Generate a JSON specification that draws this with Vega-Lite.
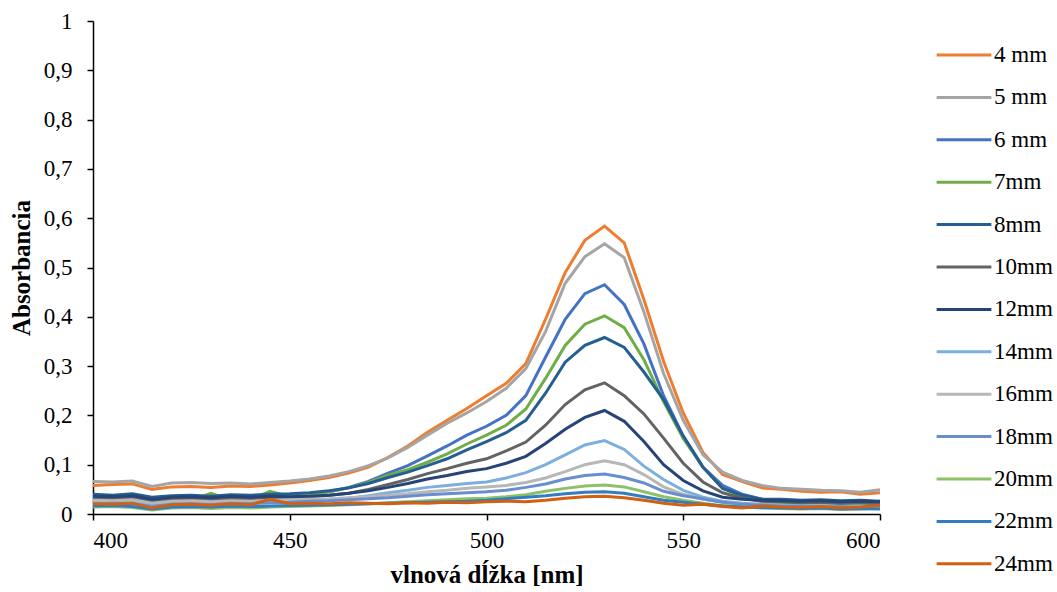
{
"$schema": "https://vega.github.io/schema/vega-lite/v6.json",
"width": 787, "height": 493,
"autosize": {"type": "none"},
"padding": {"left": 93, "top": 21, "right": 177, "bottom": 78},
"background": "white",
"config": {"font": "Liberation Serif", "view": {"stroke": null},
  "axis": {"grid": false, "domainColor": "black", "tickColor": "black", "labelColor": "black", "titleColor": "black", "labelFont": "Liberation Serif", "titleFont": "Liberation Serif", "domainWidth": 1.5, "tickWidth": 1.5}},
"data": {"values": [
{"w":400,"s":"4 mm","a":0.058},{"w":405,"s":"4 mm","a":0.060},{"w":410,"s":"4 mm","a":0.061},{"w":415,"s":"4 mm","a":0.050},{"w":420,"s":"4 mm","a":0.055},{"w":425,"s":"4 mm","a":0.056},{"w":430,"s":"4 mm","a":0.054},{"w":435,"s":"4 mm","a":0.057},{"w":440,"s":"4 mm","a":0.056},{"w":445,"s":"4 mm","a":0.059},{"w":450,"s":"4 mm","a":0.063},{"w":455,"s":"4 mm","a":0.068},{"w":460,"s":"4 mm","a":0.074},{"w":465,"s":"4 mm","a":0.083},{"w":470,"s":"4 mm","a":0.095},{"w":475,"s":"4 mm","a":0.115},{"w":480,"s":"4 mm","a":0.138},{"w":485,"s":"4 mm","a":0.166},{"w":490,"s":"4 mm","a":0.190},{"w":495,"s":"4 mm","a":0.214},{"w":500,"s":"4 mm","a":0.240},{"w":505,"s":"4 mm","a":0.265},{"w":510,"s":"4 mm","a":0.305},{"w":515,"s":"4 mm","a":0.395},{"w":520,"s":"4 mm","a":0.490},{"w":525,"s":"4 mm","a":0.555},{"w":530,"s":"4 mm","a":0.584},{"w":535,"s":"4 mm","a":0.550},{"w":540,"s":"4 mm","a":0.435},{"w":545,"s":"4 mm","a":0.310},{"w":550,"s":"4 mm","a":0.205},{"w":555,"s":"4 mm","a":0.125},{"w":560,"s":"4 mm","a":0.080},{"w":565,"s":"4 mm","a":0.066},{"w":570,"s":"4 mm","a":0.053},{"w":575,"s":"4 mm","a":0.050},{"w":580,"s":"4 mm","a":0.046},{"w":585,"s":"4 mm","a":0.044},{"w":590,"s":"4 mm","a":0.045},{"w":595,"s":"4 mm","a":0.040},{"w":600,"s":"4 mm","a":0.043},
{"w":400,"s":"5 mm","a":0.066},{"w":405,"s":"5 mm","a":0.065},{"w":410,"s":"5 mm","a":0.067},{"w":415,"s":"5 mm","a":0.056},{"w":420,"s":"5 mm","a":0.063},{"w":425,"s":"5 mm","a":0.064},{"w":430,"s":"5 mm","a":0.062},{"w":435,"s":"5 mm","a":0.063},{"w":440,"s":"5 mm","a":0.061},{"w":445,"s":"5 mm","a":0.064},{"w":450,"s":"5 mm","a":0.067},{"w":455,"s":"5 mm","a":0.071},{"w":460,"s":"5 mm","a":0.077},{"w":465,"s":"5 mm","a":0.086},{"w":470,"s":"5 mm","a":0.098},{"w":475,"s":"5 mm","a":0.114},{"w":480,"s":"5 mm","a":0.135},{"w":485,"s":"5 mm","a":0.160},{"w":490,"s":"5 mm","a":0.184},{"w":495,"s":"5 mm","a":0.205},{"w":500,"s":"5 mm","a":0.228},{"w":505,"s":"5 mm","a":0.255},{"w":510,"s":"5 mm","a":0.295},{"w":515,"s":"5 mm","a":0.370},{"w":520,"s":"5 mm","a":0.468},{"w":525,"s":"5 mm","a":0.522},{"w":530,"s":"5 mm","a":0.548},{"w":535,"s":"5 mm","a":0.520},{"w":540,"s":"5 mm","a":0.410},{"w":545,"s":"5 mm","a":0.285},{"w":550,"s":"5 mm","a":0.190},{"w":555,"s":"5 mm","a":0.120},{"w":560,"s":"5 mm","a":0.085},{"w":565,"s":"5 mm","a":0.068},{"w":570,"s":"5 mm","a":0.058},{"w":575,"s":"5 mm","a":0.052},{"w":580,"s":"5 mm","a":0.050},{"w":585,"s":"5 mm","a":0.048},{"w":590,"s":"5 mm","a":0.047},{"w":595,"s":"5 mm","a":0.044},{"w":600,"s":"5 mm","a":0.049},
{"w":400,"s":"6 mm","a":0.032},{"w":405,"s":"6 mm","a":0.034},{"w":410,"s":"6 mm","a":0.033},{"w":415,"s":"6 mm","a":0.026},{"w":420,"s":"6 mm","a":0.030},{"w":425,"s":"6 mm","a":0.031},{"w":430,"s":"6 mm","a":0.032},{"w":435,"s":"6 mm","a":0.030},{"w":440,"s":"6 mm","a":0.033},{"w":445,"s":"6 mm","a":0.034},{"w":450,"s":"6 mm","a":0.036},{"w":455,"s":"6 mm","a":0.040},{"w":460,"s":"6 mm","a":0.045},{"w":465,"s":"6 mm","a":0.054},{"w":470,"s":"6 mm","a":0.066},{"w":475,"s":"6 mm","a":0.083},{"w":480,"s":"6 mm","a":0.098},{"w":485,"s":"6 mm","a":0.118},{"w":490,"s":"6 mm","a":0.138},{"w":495,"s":"6 mm","a":0.160},{"w":500,"s":"6 mm","a":0.178},{"w":505,"s":"6 mm","a":0.200},{"w":510,"s":"6 mm","a":0.240},{"w":515,"s":"6 mm","a":0.318},{"w":520,"s":"6 mm","a":0.395},{"w":525,"s":"6 mm","a":0.447},{"w":530,"s":"6 mm","a":0.465},{"w":535,"s":"6 mm","a":0.425},{"w":540,"s":"6 mm","a":0.345},{"w":545,"s":"6 mm","a":0.240},{"w":550,"s":"6 mm","a":0.158},{"w":555,"s":"6 mm","a":0.095},{"w":560,"s":"6 mm","a":0.058},{"w":565,"s":"6 mm","a":0.040},{"w":570,"s":"6 mm","a":0.030},{"w":575,"s":"6 mm","a":0.028},{"w":580,"s":"6 mm","a":0.026},{"w":585,"s":"6 mm","a":0.024},{"w":590,"s":"6 mm","a":0.025},{"w":595,"s":"6 mm","a":0.022},{"w":600,"s":"6 mm","a":0.026},
{"w":400,"s":"7mm","a":0.028},{"w":405,"s":"7mm","a":0.030},{"w":410,"s":"7mm","a":0.029},{"w":415,"s":"7mm","a":0.022},{"w":420,"s":"7mm","a":0.027},{"w":425,"s":"7mm","a":0.028},{"w":430,"s":"7mm","a":0.042},{"w":435,"s":"7mm","a":0.028},{"w":440,"s":"7mm","a":0.030},{"w":445,"s":"7mm","a":0.046},{"w":450,"s":"7mm","a":0.035},{"w":455,"s":"7mm","a":0.039},{"w":460,"s":"7mm","a":0.045},{"w":465,"s":"7mm","a":0.053},{"w":470,"s":"7mm","a":0.064},{"w":475,"s":"7mm","a":0.079},{"w":480,"s":"7mm","a":0.090},{"w":485,"s":"7mm","a":0.105},{"w":490,"s":"7mm","a":0.122},{"w":495,"s":"7mm","a":0.142},{"w":500,"s":"7mm","a":0.160},{"w":505,"s":"7mm","a":0.180},{"w":510,"s":"7mm","a":0.213},{"w":515,"s":"7mm","a":0.275},{"w":520,"s":"7mm","a":0.342},{"w":525,"s":"7mm","a":0.385},{"w":530,"s":"7mm","a":0.402},{"w":535,"s":"7mm","a":0.378},{"w":540,"s":"7mm","a":0.313},{"w":545,"s":"7mm","a":0.228},{"w":550,"s":"7mm","a":0.153},{"w":555,"s":"7mm","a":0.095},{"w":560,"s":"7mm","a":0.052},{"w":565,"s":"7mm","a":0.035},{"w":570,"s":"7mm","a":0.025},{"w":575,"s":"7mm","a":0.022},{"w":580,"s":"7mm","a":0.020},{"w":585,"s":"7mm","a":0.018},{"w":590,"s":"7mm","a":0.019},{"w":595,"s":"7mm","a":0.016},{"w":600,"s":"7mm","a":0.020},
{"w":400,"s":"8mm","a":0.040},{"w":405,"s":"8mm","a":0.038},{"w":410,"s":"8mm","a":0.041},{"w":415,"s":"8mm","a":0.034},{"w":420,"s":"8mm","a":0.037},{"w":425,"s":"8mm","a":0.038},{"w":430,"s":"8mm","a":0.036},{"w":435,"s":"8mm","a":0.039},{"w":440,"s":"8mm","a":0.038},{"w":445,"s":"8mm","a":0.040},{"w":450,"s":"8mm","a":0.041},{"w":455,"s":"8mm","a":0.043},{"w":460,"s":"8mm","a":0.047},{"w":465,"s":"8mm","a":0.053},{"w":470,"s":"8mm","a":0.062},{"w":475,"s":"8mm","a":0.074},{"w":480,"s":"8mm","a":0.085},{"w":485,"s":"8mm","a":0.098},{"w":490,"s":"8mm","a":0.112},{"w":495,"s":"8mm","a":0.130},{"w":500,"s":"8mm","a":0.147},{"w":505,"s":"8mm","a":0.165},{"w":510,"s":"8mm","a":0.190},{"w":515,"s":"8mm","a":0.245},{"w":520,"s":"8mm","a":0.308},{"w":525,"s":"8mm","a":0.342},{"w":530,"s":"8mm","a":0.358},{"w":535,"s":"8mm","a":0.338},{"w":540,"s":"8mm","a":0.288},{"w":545,"s":"8mm","a":0.232},{"w":550,"s":"8mm","a":0.158},{"w":555,"s":"8mm","a":0.095},{"w":560,"s":"8mm","a":0.052},{"w":565,"s":"8mm","a":0.038},{"w":570,"s":"8mm","a":0.030},{"w":575,"s":"8mm","a":0.030},{"w":580,"s":"8mm","a":0.028},{"w":585,"s":"8mm","a":0.029},{"w":590,"s":"8mm","a":0.027},{"w":595,"s":"8mm","a":0.028},{"w":600,"s":"8mm","a":0.026},
{"w":400,"s":"10mm","a":0.030},{"w":405,"s":"10mm","a":0.032},{"w":410,"s":"10mm","a":0.031},{"w":415,"s":"10mm","a":0.025},{"w":420,"s":"10mm","a":0.029},{"w":425,"s":"10mm","a":0.030},{"w":430,"s":"10mm","a":0.028},{"w":435,"s":"10mm","a":0.031},{"w":440,"s":"10mm","a":0.030},{"w":445,"s":"10mm","a":0.032},{"w":450,"s":"10mm","a":0.033},{"w":455,"s":"10mm","a":0.035},{"w":460,"s":"10mm","a":0.038},{"w":465,"s":"10mm","a":0.042},{"w":470,"s":"10mm","a":0.050},{"w":475,"s":"10mm","a":0.060},{"w":480,"s":"10mm","a":0.070},{"w":485,"s":"10mm","a":0.082},{"w":490,"s":"10mm","a":0.092},{"w":495,"s":"10mm","a":0.103},{"w":500,"s":"10mm","a":0.112},{"w":505,"s":"10mm","a":0.128},{"w":510,"s":"10mm","a":0.146},{"w":515,"s":"10mm","a":0.180},{"w":520,"s":"10mm","a":0.222},{"w":525,"s":"10mm","a":0.252},{"w":530,"s":"10mm","a":0.266},{"w":535,"s":"10mm","a":0.240},{"w":540,"s":"10mm","a":0.203},{"w":545,"s":"10mm","a":0.154},{"w":550,"s":"10mm","a":0.103},{"w":555,"s":"10mm","a":0.065},{"w":560,"s":"10mm","a":0.043},{"w":565,"s":"10mm","a":0.032},{"w":570,"s":"10mm","a":0.026},{"w":575,"s":"10mm","a":0.025},{"w":580,"s":"10mm","a":0.023},{"w":585,"s":"10mm","a":0.024},{"w":590,"s":"10mm","a":0.022},{"w":595,"s":"10mm","a":0.023},{"w":600,"s":"10mm","a":0.021},
{"w":400,"s":"12mm","a":0.036},{"w":405,"s":"12mm","a":0.035},{"w":410,"s":"12mm","a":0.037},{"w":415,"s":"12mm","a":0.030},{"w":420,"s":"12mm","a":0.034},{"w":425,"s":"12mm","a":0.035},{"w":430,"s":"12mm","a":0.033},{"w":435,"s":"12mm","a":0.036},{"w":440,"s":"12mm","a":0.034},{"w":445,"s":"12mm","a":0.036},{"w":450,"s":"12mm","a":0.035},{"w":455,"s":"12mm","a":0.036},{"w":460,"s":"12mm","a":0.038},{"w":465,"s":"12mm","a":0.042},{"w":470,"s":"12mm","a":0.047},{"w":475,"s":"12mm","a":0.054},{"w":480,"s":"12mm","a":0.062},{"w":485,"s":"12mm","a":0.071},{"w":490,"s":"12mm","a":0.078},{"w":495,"s":"12mm","a":0.086},{"w":500,"s":"12mm","a":0.092},{"w":505,"s":"12mm","a":0.103},{"w":510,"s":"12mm","a":0.117},{"w":515,"s":"12mm","a":0.143},{"w":520,"s":"12mm","a":0.172},{"w":525,"s":"12mm","a":0.196},{"w":530,"s":"12mm","a":0.210},{"w":535,"s":"12mm","a":0.188},{"w":540,"s":"12mm","a":0.147},{"w":545,"s":"12mm","a":0.100},{"w":550,"s":"12mm","a":0.068},{"w":555,"s":"12mm","a":0.047},{"w":560,"s":"12mm","a":0.034},{"w":565,"s":"12mm","a":0.030},{"w":570,"s":"12mm","a":0.028},{"w":575,"s":"12mm","a":0.027},{"w":580,"s":"12mm","a":0.026},{"w":585,"s":"12mm","a":0.027},{"w":590,"s":"12mm","a":0.025},{"w":595,"s":"12mm","a":0.026},{"w":600,"s":"12mm","a":0.025},
{"w":400,"s":"14mm","a":0.024},{"w":405,"s":"14mm","a":0.025},{"w":410,"s":"14mm","a":0.023},{"w":415,"s":"14mm","a":0.018},{"w":420,"s":"14mm","a":0.022},{"w":425,"s":"14mm","a":0.023},{"w":430,"s":"14mm","a":0.021},{"w":435,"s":"14mm","a":0.024},{"w":440,"s":"14mm","a":0.023},{"w":445,"s":"14mm","a":0.025},{"w":450,"s":"14mm","a":0.026},{"w":455,"s":"14mm","a":0.027},{"w":460,"s":"14mm","a":0.028},{"w":465,"s":"14mm","a":0.032},{"w":470,"s":"14mm","a":0.037},{"w":475,"s":"14mm","a":0.043},{"w":480,"s":"14mm","a":0.048},{"w":485,"s":"14mm","a":0.054},{"w":490,"s":"14mm","a":0.058},{"w":495,"s":"14mm","a":0.062},{"w":500,"s":"14mm","a":0.065},{"w":505,"s":"14mm","a":0.073},{"w":510,"s":"14mm","a":0.084},{"w":515,"s":"14mm","a":0.100},{"w":520,"s":"14mm","a":0.120},{"w":525,"s":"14mm","a":0.140},{"w":530,"s":"14mm","a":0.149},{"w":535,"s":"14mm","a":0.131},{"w":540,"s":"14mm","a":0.097},{"w":545,"s":"14mm","a":0.070},{"w":550,"s":"14mm","a":0.048},{"w":555,"s":"14mm","a":0.034},{"w":560,"s":"14mm","a":0.026},{"w":565,"s":"14mm","a":0.022},{"w":570,"s":"14mm","a":0.020},{"w":575,"s":"14mm","a":0.018},{"w":580,"s":"14mm","a":0.016},{"w":585,"s":"14mm","a":0.017},{"w":590,"s":"14mm","a":0.015},{"w":595,"s":"14mm","a":0.016},{"w":600,"s":"14mm","a":0.014},
{"w":400,"s":"16mm","a":0.028},{"w":405,"s":"16mm","a":0.027},{"w":410,"s":"16mm","a":0.029},{"w":415,"s":"16mm","a":0.022},{"w":420,"s":"16mm","a":0.026},{"w":425,"s":"16mm","a":0.027},{"w":430,"s":"16mm","a":0.025},{"w":435,"s":"16mm","a":0.027},{"w":440,"s":"16mm","a":0.026},{"w":445,"s":"16mm","a":0.028},{"w":450,"s":"16mm","a":0.029},{"w":455,"s":"16mm","a":0.030},{"w":460,"s":"16mm","a":0.031},{"w":465,"s":"16mm","a":0.033},{"w":470,"s":"16mm","a":0.035},{"w":475,"s":"16mm","a":0.038},{"w":480,"s":"16mm","a":0.041},{"w":485,"s":"16mm","a":0.045},{"w":490,"s":"16mm","a":0.048},{"w":495,"s":"16mm","a":0.052},{"w":500,"s":"16mm","a":0.055},{"w":505,"s":"16mm","a":0.058},{"w":510,"s":"16mm","a":0.064},{"w":515,"s":"16mm","a":0.073},{"w":520,"s":"16mm","a":0.086},{"w":525,"s":"16mm","a":0.100},{"w":530,"s":"16mm","a":0.108},{"w":535,"s":"16mm","a":0.100},{"w":540,"s":"16mm","a":0.080},{"w":545,"s":"16mm","a":0.055},{"w":550,"s":"16mm","a":0.040},{"w":555,"s":"16mm","a":0.030},{"w":560,"s":"16mm","a":0.024},{"w":565,"s":"16mm","a":0.020},{"w":570,"s":"16mm","a":0.018},{"w":575,"s":"16mm","a":0.016},{"w":580,"s":"16mm","a":0.015},{"w":585,"s":"16mm","a":0.016},{"w":590,"s":"16mm","a":0.014},{"w":595,"s":"16mm","a":0.015},{"w":600,"s":"16mm","a":0.013},
{"w":400,"s":"18mm","a":0.020},{"w":405,"s":"18mm","a":0.022},{"w":410,"s":"18mm","a":0.021},{"w":415,"s":"18mm","a":0.015},{"w":420,"s":"18mm","a":0.020},{"w":425,"s":"18mm","a":0.021},{"w":430,"s":"18mm","a":0.019},{"w":435,"s":"18mm","a":0.022},{"w":440,"s":"18mm","a":0.021},{"w":445,"s":"18mm","a":0.023},{"w":450,"s":"18mm","a":0.024},{"w":455,"s":"18mm","a":0.026},{"w":460,"s":"18mm","a":0.027},{"w":465,"s":"18mm","a":0.029},{"w":470,"s":"18mm","a":0.031},{"w":475,"s":"18mm","a":0.033},{"w":480,"s":"18mm","a":0.036},{"w":485,"s":"18mm","a":0.039},{"w":490,"s":"18mm","a":0.041},{"w":495,"s":"18mm","a":0.043},{"w":500,"s":"18mm","a":0.045},{"w":505,"s":"18mm","a":0.048},{"w":510,"s":"18mm","a":0.054},{"w":515,"s":"18mm","a":0.061},{"w":520,"s":"18mm","a":0.071},{"w":525,"s":"18mm","a":0.078},{"w":530,"s":"18mm","a":0.081},{"w":535,"s":"18mm","a":0.074},{"w":540,"s":"18mm","a":0.063},{"w":545,"s":"18mm","a":0.046},{"w":550,"s":"18mm","a":0.037},{"w":555,"s":"18mm","a":0.031},{"w":560,"s":"18mm","a":0.024},{"w":565,"s":"18mm","a":0.020},{"w":570,"s":"18mm","a":0.018},{"w":575,"s":"18mm","a":0.016},{"w":580,"s":"18mm","a":0.015},{"w":585,"s":"18mm","a":0.014},{"w":590,"s":"18mm","a":0.015},{"w":595,"s":"18mm","a":0.013},{"w":600,"s":"18mm","a":0.014},
{"w":400,"s":"20mm","a":0.014},{"w":405,"s":"20mm","a":0.015},{"w":410,"s":"20mm","a":0.013},{"w":415,"s":"20mm","a":0.008},{"w":420,"s":"20mm","a":0.012},{"w":425,"s":"20mm","a":0.013},{"w":430,"s":"20mm","a":0.011},{"w":435,"s":"20mm","a":0.013},{"w":440,"s":"20mm","a":0.012},{"w":445,"s":"20mm","a":0.014},{"w":450,"s":"20mm","a":0.015},{"w":455,"s":"20mm","a":0.016},{"w":460,"s":"20mm","a":0.017},{"w":465,"s":"20mm","a":0.019},{"w":470,"s":"20mm","a":0.021},{"w":475,"s":"20mm","a":0.023},{"w":480,"s":"20mm","a":0.025},{"w":485,"s":"20mm","a":0.027},{"w":490,"s":"20mm","a":0.029},{"w":495,"s":"20mm","a":0.031},{"w":500,"s":"20mm","a":0.032},{"w":505,"s":"20mm","a":0.035},{"w":510,"s":"20mm","a":0.039},{"w":515,"s":"20mm","a":0.046},{"w":520,"s":"20mm","a":0.052},{"w":525,"s":"20mm","a":0.057},{"w":530,"s":"20mm","a":0.059},{"w":535,"s":"20mm","a":0.055},{"w":540,"s":"20mm","a":0.045},{"w":545,"s":"20mm","a":0.035},{"w":550,"s":"20mm","a":0.028},{"w":555,"s":"20mm","a":0.022},{"w":560,"s":"20mm","a":0.017},{"w":565,"s":"20mm","a":0.014},{"w":570,"s":"20mm","a":0.012},{"w":575,"s":"20mm","a":0.011},{"w":580,"s":"20mm","a":0.010},{"w":585,"s":"20mm","a":0.011},{"w":590,"s":"20mm","a":0.009},{"w":595,"s":"20mm","a":0.010},{"w":600,"s":"20mm","a":0.011},
{"w":400,"s":"22mm","a":0.016},{"w":405,"s":"22mm","a":0.017},{"w":410,"s":"22mm","a":0.015},{"w":415,"s":"22mm","a":0.010},{"w":420,"s":"22mm","a":0.014},{"w":425,"s":"22mm","a":0.015},{"w":430,"s":"22mm","a":0.014},{"w":435,"s":"22mm","a":0.016},{"w":440,"s":"22mm","a":0.015},{"w":445,"s":"22mm","a":0.016},{"w":450,"s":"22mm","a":0.017},{"w":455,"s":"22mm","a":0.018},{"w":460,"s":"22mm","a":0.019},{"w":465,"s":"22mm","a":0.020},{"w":470,"s":"22mm","a":0.021},{"w":475,"s":"22mm","a":0.022},{"w":480,"s":"22mm","a":0.023},{"w":485,"s":"22mm","a":0.024},{"w":490,"s":"22mm","a":0.025},{"w":495,"s":"22mm","a":0.026},{"w":500,"s":"22mm","a":0.028},{"w":505,"s":"22mm","a":0.031},{"w":510,"s":"22mm","a":0.034},{"w":515,"s":"22mm","a":0.037},{"w":520,"s":"22mm","a":0.041},{"w":525,"s":"22mm","a":0.044},{"w":530,"s":"22mm","a":0.045},{"w":535,"s":"22mm","a":0.042},{"w":540,"s":"22mm","a":0.035},{"w":545,"s":"22mm","a":0.028},{"w":550,"s":"22mm","a":0.024},{"w":555,"s":"22mm","a":0.020},{"w":560,"s":"22mm","a":0.016},{"w":565,"s":"22mm","a":0.014},{"w":570,"s":"22mm","a":0.013},{"w":575,"s":"22mm","a":0.012},{"w":580,"s":"22mm","a":0.011},{"w":585,"s":"22mm","a":0.012},{"w":590,"s":"22mm","a":0.010},{"w":595,"s":"22mm","a":0.011},{"w":600,"s":"22mm","a":0.010},
{"w":400,"s":"24mm","a":0.021},{"w":405,"s":"24mm","a":0.020},{"w":410,"s":"24mm","a":0.022},{"w":415,"s":"24mm","a":0.012},{"w":420,"s":"24mm","a":0.019},{"w":425,"s":"24mm","a":0.020},{"w":430,"s":"24mm","a":0.018},{"w":435,"s":"24mm","a":0.021},{"w":440,"s":"24mm","a":0.019},{"w":445,"s":"24mm","a":0.030},{"w":450,"s":"24mm","a":0.021},{"w":455,"s":"24mm","a":0.022},{"w":460,"s":"24mm","a":0.021},{"w":465,"s":"24mm","a":0.023},{"w":470,"s":"24mm","a":0.022},{"w":475,"s":"24mm","a":0.021},{"w":480,"s":"24mm","a":0.023},{"w":485,"s":"24mm","a":0.022},{"w":490,"s":"24mm","a":0.024},{"w":495,"s":"24mm","a":0.023},{"w":500,"s":"24mm","a":0.025},{"w":505,"s":"24mm","a":0.026},{"w":510,"s":"24mm","a":0.025},{"w":515,"s":"24mm","a":0.028},{"w":520,"s":"24mm","a":0.032},{"w":525,"s":"24mm","a":0.035},{"w":530,"s":"24mm","a":0.036},{"w":535,"s":"24mm","a":0.033},{"w":540,"s":"24mm","a":0.028},{"w":545,"s":"24mm","a":0.022},{"w":550,"s":"24mm","a":0.018},{"w":555,"s":"24mm","a":0.020},{"w":560,"s":"24mm","a":0.015},{"w":565,"s":"24mm","a":0.012},{"w":570,"s":"24mm","a":0.016},{"w":575,"s":"24mm","a":0.014},{"w":580,"s":"24mm","a":0.013},{"w":585,"s":"24mm","a":0.015},{"w":590,"s":"24mm","a":0.012},{"w":595,"s":"24mm","a":0.014},{"w":600,"s":"24mm","a":0.018}
]},
"mark": {"type": "line", "strokeWidth": 3, "clip": true},
"encoding": {
  "x": {"field": "w", "type": "quantitative", "scale": {"domain": [400, 600], "nice": false},
    "axis": {"values": [400, 450, 500, 550, 600], "title": "vlnová dĺžka [nm]", "labelFontSize": 23, "titleFontSize": 25, "titleFontWeight": "bold", "tickSize": 6, "labelPadding": 9, "titlePadding": 10}},
  "y": {"field": "a", "type": "quantitative", "scale": {"domain": [0, 1], "nice": false},
    "axis": {"values": [0, 0.1, 0.2, 0.3, 0.4, 0.5, 0.6, 0.7, 0.8, 0.9, 1], "labelExpr": "replace(format(datum.value, '.1~f'), '.', ',')", "title": "Absorbancia", "labelFontSize": 23, "titleFontSize": 25, "titleFontWeight": "bold", "tickSize": 6, "labelPadding": 15, "titlePadding": 9}},
  "color": {"field": "s", "type": "nominal",
    "scale": {"domain": ["4 mm", "5 mm", "6 mm", "7mm", "8mm", "10mm", "12mm", "14mm", "16mm", "18mm", "20mm", "22mm", "24mm"],
      "range": ["#ED7D31", "#A5A5A5", "#4472C4", "#70AD47", "#255E91", "#636363", "#264478", "#7CAFDD", "#B7B7B7", "#698ED0", "#8CC168", "#327DC2", "#D26012"]},
    "legend": {"title": null, "orient": "none", "legendX": 842, "legendY": 5, "padding": 0, "symbolType": "stroke", "symbolSize": 3000, "symbolStrokeWidth": 3, "labelFontSize": 23, "labelFont": "Liberation Serif", "labelColor": "black", "labelOffset": 1, "rowPadding": 1.4}}
}
}
